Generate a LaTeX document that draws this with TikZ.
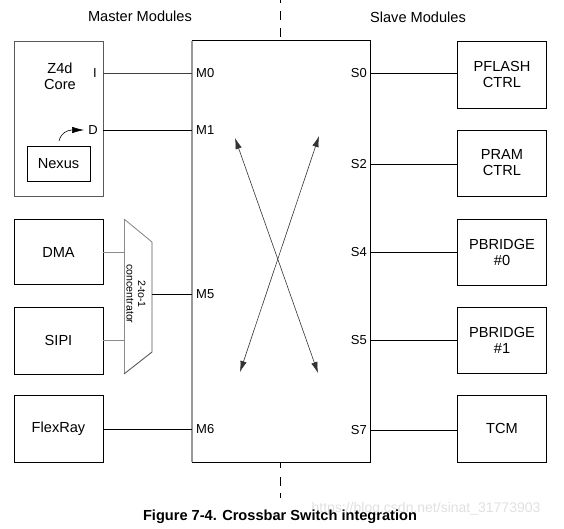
\documentclass[tikz,border=0pt]{standalone}
\usepackage{fontspec}
\setmainfont{Liberation Sans}
\usetikzlibrary{arrows.meta}
\begin{document}
\begin{tikzpicture}[x=1pt,y=-1pt,
  box/.style={draw=black, line width=0.9pt, minimum width=89pt, inner sep=0pt, align=center,
    font=\fontsize{14.6}{16}\selectfont},
  portlbl/.style={inner sep=0pt, font=\fontsize{13}{14}\selectfont},
  wire/.style={line width=0.8pt, draw=black},
  graywire/.style={line width=0.9pt, draw=black!45},
  dbl/.style={line width=0.6pt, draw=black!80, {Latex[length=11pt,width=6.5pt]}-{Latex[length=11pt,width=6.5pt]}},
  hdr/.style={font=\fontsize{14.6}{16}\selectfont, inner sep=0pt}]
\useasboundingbox (0,0) rectangle (564,529);
% headers
\node[hdr] (mhdr) at (140,16) {Master Modules};
\node[hdr] (shdr) at (418,17) {Slave Modules};
% crossbar box
\node[minimum width=178pt, minimum height=421pt, inner sep=0pt] (xbar) at (281,251.5) {};
\draw[line width=0.9pt] (xbar.north west) -- (xbar.north east) -- (xbar.south east) -- (xbar.south west);
\draw[line width=1.6pt, black!40] (xbar.south west) -- (xbar.north west);
% dashed separator
\coordinate (dtop) at (280,0);
\coordinate (dtopstart) at (280,37);
\coordinate (dbot) at (280,498);
\draw[line width=0.9pt, dash pattern=on 9pt off 8pt] (dtopstart) -- (dtop);
\draw[line width=0.9pt, dash pattern=on 6pt off 9pt on 9pt off 7pt on 9pt off 7pt] (xbar.south -| dbot) -- (dbot);
% master modules
\node[box, draw=black!65, minimum height=155pt] (z4d) at (58.5,118.5) {};
\node[inner sep=0pt, align=center, font=\fontsize{14.6}{16}\selectfont] (z4dtxt) at (60,76) {Z4d\\Core};
\node[box, minimum width=63pt, minimum height=35pt] (nexus) at (58.5,163.5) {Nexus};
\node[portlbl, anchor=east] (pI) at (97,73) {I};
\node[portlbl, anchor=east] (pD) at (98,130) {D};
\coordinate (arrstart) at (59,141);
\coordinate (arrend) at (84,130);
\draw[line width=0.6pt, -{Latex[length=12pt,width=6.5pt]}] (arrstart) .. controls (61,133) and (67,130) .. (arrend);
\node[box, minimum height=65pt] (dma) at (58.5,252) {DMA};
\node[box, minimum height=67pt] (sipi) at (58.5,340.5) {SIPI};
\node[box, minimum height=67pt] (flex) at (58.5,428.5) {FlexRay};
% concentrator
\coordinate (ca) at (124,219);
\coordinate (cb) at (152,242);
\coordinate (cc) at (152,352);
\coordinate (cd) at (124,374);
\draw[line width=0.9pt, black!45] (ca) -- (cb);
\draw[line width=0.9pt, black!45] (ca) -- (cd);
\draw[line width=0.9pt, black!65] (cb) -- (cc) -- (cd);
\node[rotate=-90, inner sep=0pt, align=center, font=\fontsize{10.6}{11.5}\selectfont] (conc) at (136,294) {2-to-1\\concentrator};
\draw[graywire] (dma.east) -- (dma.east -| ca);
\draw[graywire] (sipi.east) -- (sipi.east -| ca);
% master port labels
\node[portlbl, anchor=west] (m0) at (196,73) {M0};
\node[portlbl, anchor=west] (m1) at (196,130) {M1};
\node[portlbl, anchor=west] (m5) at (196,294) {M5};
\node[portlbl, anchor=west] (m6) at (196,429) {M6};
\draw[wire, black!75] (z4d.east |- m0) -- (xbar.west |- m0);
\draw[wire] (z4d.east |- m1) -- (xbar.west |- m1);
\draw[wire] (cb |- m5) -- (xbar.west |- m5);
\draw[wire] (flex.east |- m6) -- (xbar.west |- m6);
% slave modules
\node[box, minimum height=67pt] (pflash) at (502,74.5) {PFLASH\\CTRL};
\node[box, minimum height=66pt] (pram) at (502,163) {PRAM\\CTRL};
\node[box, minimum height=66pt] (pb0) at (502,252) {PBRIDGE\\\#0};
\node[box, minimum height=66pt] (pb1) at (502,340) {PBRIDGE\\\#1};
\node[box, minimum height=67pt] (tcm) at (502,428.5) {TCM};
\node[portlbl, anchor=east] (s0) at (367,73) {S0};
\node[portlbl, anchor=east] (s2) at (367,164) {S2};
\node[portlbl, anchor=east] (s4) at (367,252) {S4};
\node[portlbl, anchor=east] (s5) at (367,340) {S5};
\node[portlbl, anchor=east] (s7) at (367,430) {S7};
\draw[wire] (xbar.east |- s0) -- (pflash.west |- s0);
\draw[wire] (xbar.east |- s2) -- (pram.west |- s2);
\draw[wire] (xbar.east |- s4) -- (pb0.west |- s4);
\draw[wire] (xbar.east |- s5) -- (pb1.west |- s5);
\draw[wire] (xbar.east |- s7) -- (tcm.west |- s7);
% crossing arrows
\coordinate (xa1) at (235,138);
\coordinate (xa2) at (318,373);
\coordinate (xb1) at (319,136);
\coordinate (xb2) at (240,372);
\draw[dbl] (xa1) -- (xa2);
\draw[dbl] (xb1) -- (xb2);
% watermark and caption
\node[inner sep=0pt, text=black!12, font=\fontsize{14}{16}\selectfont] (wm) at (426,509) {https://blog.csdn.net/sinat\_31773903};
\node[inner sep=0pt, font=\bfseries\fontsize{14.6}{16}\selectfont] (cap) at (280,517) {Figure 7-4. Crossbar Switch integration};
\end{tikzpicture}
\end{document}
